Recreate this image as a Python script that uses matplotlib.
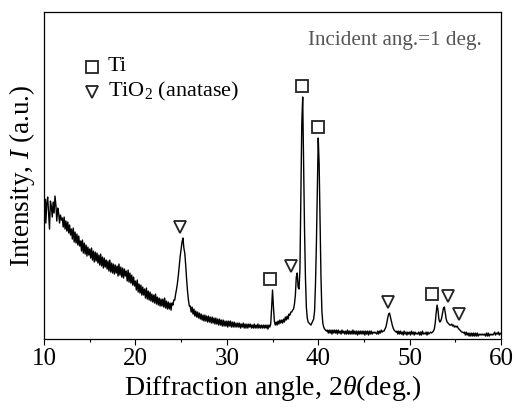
import numpy as np
import matplotlib
matplotlib.use('Agg')
import matplotlib.pyplot as plt

plt.rcParams['font.family'] = 'Liberation Serif'
plt.rcParams['mathtext.fontset'] = 'custom'
plt.rcParams['mathtext.rm'] = 'Liberation Serif'
plt.rcParams['mathtext.it'] = 'Liberation Serif:italic'

# XRD scan, 10-60 deg in 0.1 deg steps (one row per degree)
two_theta = np.round(np.arange(10.0, 60.01, 0.1), 1)
intensity = [
    130, 140, 116, 136, 142, 126, 110, 138, 133, 122,   # 10
    137, 126, 143, 134, 118, 131, 126, 116, 124, 119,   # 11
    121, 112, 122, 110, 118, 108, 117, 106, 114, 104,   # 12
    110, 100, 111, 97, 107, 96, 105, 94, 103, 93,       # 13
    98, 88, 99, 86, 96, 85, 94, 83, 92, 84,             # 14
    90, 81, 91, 79, 88, 77, 87, 78, 86, 76,             # 15
    84, 74, 85, 73, 82, 71, 81, 72, 79, 70,             # 16
    78, 68, 79, 67, 76, 66, 75, 65, 74, 66,             # 17
    73, 63, 75, 64, 72, 62, 71, 61, 70, 63,             # 18
    68, 58, 69, 57, 66, 56, 64, 54, 62, 53,             # 19
    58, 49, 59, 47, 55, 46, 54, 44, 52, 44,             # 20
    50, 41, 51, 40, 48, 39, 47, 38, 45, 37,             # 21
    44, 36, 45, 35, 42, 34, 41, 33, 40, 33,             # 22
    40, 32, 41, 31, 38, 30, 37, 30, 36, 29,             # 23
    36, 34, 39, 39, 45, 50, 56, 64, 74, 83,             # 24
    90, 97, 101, 91, 86, 74, 60, 48, 39, 33,            # 25
    33, 27, 32, 25, 30, 23, 28, 22, 27, 21,             # 26
    26, 20, 25, 19, 24, 18, 24, 18, 23, 17,             # 27
    23, 17, 22, 16, 22, 16, 21, 15, 21, 15,             # 28
    20, 14, 20, 14, 19, 13, 19, 13, 18, 13,             # 29
    18, 12, 18, 13, 18, 12, 17, 12, 17, 12,             # 30
    16, 12, 16, 12, 16, 11, 15, 12, 16, 11,             # 31
    15, 11, 15, 11, 15, 12, 15, 11, 14, 11,             # 32
    15, 11, 14, 11, 15, 11, 14, 11, 14, 11,             # 33
    14, 11, 14, 11, 14, 10, 14, 12, 15, 31,             # 34
    49, 32, 18, 14, 17, 14, 18, 15, 19, 16,             # 35
    19, 16, 20, 17, 22, 19, 23, 20, 25, 24,             # 36
    27, 27, 29, 30, 35, 44, 62, 66, 52, 50,             # 37
    70, 140, 215, 242, 175, 110, 62, 32, 21, 17,        # 38
    16, 15, 14, 16, 18, 20, 28, 55, 95, 150,            # 39
    201, 175, 120, 62, 28, 16, 12, 10, 9, 8,            # 40
    9, 6, 9, 6, 9, 5, 9, 6, 9, 6,                       # 41
    9, 5, 9, 6, 8, 5, 9, 6, 8, 5,                       # 42
    8, 5, 9, 5, 8, 5, 8, 5, 9, 5,                       # 43
    8, 5, 8, 4, 8, 5, 8, 5, 8, 5,                       # 44
    8, 4, 8, 5, 8, 4, 8, 5, 8, 5,                       # 45
    7, 6, 7, 6, 5, 8, 5, 8, 6, 9,                       # 46
    7, 8, 8, 10, 12, 16, 21, 25, 26, 22,                # 47
    18, 14, 11, 9, 8, 7, 8, 5, 8, 5,                    # 48
    8, 5, 7, 4, 8, 5, 7, 4, 7, 5,                       # 49
    7, 4, 8, 5, 7, 4, 7, 5, 6, 5,                       # 50
    7, 4, 7, 4, 8, 5, 6, 5, 7, 4,                       # 51
    7, 5, 6, 7, 6, 7, 8, 10, 16, 26,                    # 52
    34, 29, 20, 17, 18, 21, 26, 31, 32, 26,             # 53
    20, 17, 16, 15, 14, 14, 15, 13, 14, 12,             # 54
    13, 12, 13, 11, 10, 9, 8, 7, 7, 6,                  # 55
    7, 4, 7, 4, 6, 3, 6, 3, 6, 3,                       # 56
    6, 3, 6, 3, 6, 3, 5, 4, 5, 4,                       # 57
    5, 4, 5, 3, 6, 3, 6, 3, 5, 4,                       # 58
    5, 4, 5, 7, 4, 6, 5, 7, 4, 6,                       # 59
    5,                                                  # 60
]
intensity = np.array(intensity, dtype=float)

# peak assignments
ti_angles = [34.75, 38.2, 39.95, 52.4]
anatase_angles = [24.9, 37.0, 47.6, 54.25, 55.45]


def marker_heights(angles, window=0.7, offset=11):
    out = []
    for a in angles:
        sel = np.abs(two_theta - a) <= window
        out.append(intensity[sel].max() + offset)
    return out


fig = plt.figure(figsize=(5.16, 4.13), dpi=100)
ax = fig.add_axes([0.0853, 0.179, 0.8857, 0.792])

ax.plot(two_theta, intensity, color='black', lw=1.0)

mk = dict(ls='none', mfc='white', mec='#222222', ms=9, mew=1.3)
ax.plot(ti_angles, marker_heights(ti_angles), marker='s', **mk)
ax.plot(anatase_angles, marker_heights(anatase_angles), marker='v', **mk)

ax.set_xlim(10, 60)
ax.set_ylim(0, 327)
ax.set_xticks(np.arange(10, 61, 10))
ax.set_xticks(np.arange(15, 60, 10), minor=True)
ax.set_yticks([])
ax.tick_params(axis='x', which='major', direction='out', length=4.5, width=0.8,
               labelsize=18, pad=2)
ax.tick_params(axis='x', which='minor', direction='out', length=2.2, width=0.8)
for s in ax.spines.values():
    s.set_linewidth(0.9)

ax.set_xlabel(r'Diffraction angle, 2$\theta$(deg.)', fontsize=20, labelpad=2)
ax.set_ylabel(r'Intensity, $I$ (a.u.)', fontsize=19.5, labelpad=5)

# phase key
ax.plot([0.1057], [0.833], marker='s', transform=ax.transAxes, **mk)
ax.plot([0.1057], [0.756], marker='v', transform=ax.transAxes, **mk)
ax.text(0.14, 0.833, 'Ti', transform=ax.transAxes, fontsize=16, va='center')
ax.text(0.14, 0.756, r'TiO$_2$ (anatase)', transform=ax.transAxes, fontsize=16,
        va='center')

ax.text(0.958, 0.912, 'Incident ang.=1 deg.', transform=ax.transAxes,
        fontsize=15.2, color='#555555', ha='right', va='center')

fig.savefig('out.png', dpi=100)
